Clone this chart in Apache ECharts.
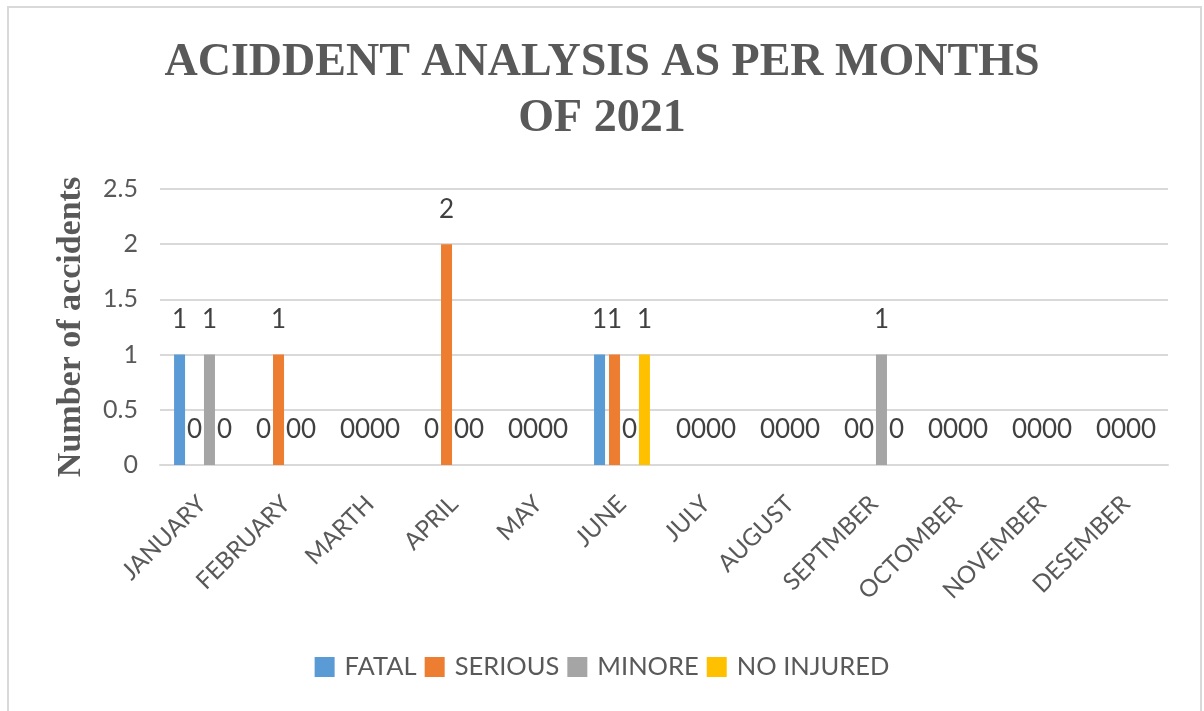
<!DOCTYPE html>
<html>
<head>
<meta charset="utf-8">
<script src="https://cdn.jsdelivr.net/npm/echarts@6/dist/echarts.min.js"></script>
<style>
  html, body { margin: 0; padding: 0; background: #fff; }
  #chart { width: 1204px; height: 711px; }
</style>
</head>
<body>
<div id="chart"></div>
<script>
const months = ['JANUARY', 'FEBRUARY', 'MARTH', 'APRIL', 'MAY', 'JUNE', 'JULY', 'AUGUST', 'SEPTMBER', 'OCTOMBER', 'NOVEMBER', 'DESEMBER']
const fatal = [1, 0, 0, 0, 0, 1, 0, 0, 0, 0, 0, 0]
const serious = [0, 1, 0, 2, 0, 1, 0, 0, 0, 0, 0, 0]
const minore = [1, 0, 0, 0, 0, 0, 0, 0, 1, 0, 0, 0]
const noInjured = [0, 0, 0, 0, 0, 1, 0, 0, 0, 0, 0, 0]
const yTicks = [0, 0.5, 1, 1.5, 2, 2.5]

const textColor = '#595959'
const bodyFont = 'Lato, "Open Sans", sans-serif'

function makeSeries(name, data, color) {
  return {
    name: name,
    type: 'bar',
    data: data,
    barWidth: 11,
    barGap: '36%',
    itemStyle: { color: color },
    label: {
      show: true,
      position: 'top',
      distance: 22,
      color: '#404040',
      fontFamily: bodyFont,
      fontSize: 26
    }
  }
}

const chart = echarts.init(document.getElementById('chart'))
chart.setOption({
  animation: false,
  backgroundColor: '#fff',
  graphic: [{
    type: 'rect',
    shape: { x: 8, y: 7, width: 1193, height: 720 },
    style: { fill: 'none', stroke: '#d9d9d9', lineWidth: 2 }
  }],
  title: {
    text: 'ACIDDENT ANALYSIS AS PER MONTHS\nOF 2021',
    left: 'center',
    top: 30,
    textStyle: {
      fontFamily: '"Liberation Serif", "DejaVu Serif", serif',
      fontWeight: 'bold',
      fontSize: 46,
      lineHeight: 56,
      color: textColor
    }
  },
  legend: {
    bottom: 26,
    left: 'center',
    itemWidth: 20,
    itemHeight: 20,
    itemGap: 8,
    icon: 'rect',
    textStyle: { fontFamily: bodyFont, fontSize: 25.5, color: textColor, padding: [0, 0, 0, 5] },
    data: ['FATAL', 'SERIOUS', 'MINORE', 'NO INJURED']
  },
  grid: {
    left: 160,
    right: 36,
    top: 189,
    bottom: 246
  },
  xAxis: {
    type: 'category',
    data: months,
    axisLine: { lineStyle: { color: '#d9d9d9', width: 2 } },
    axisTick: { show: false },
    axisLabel: {
      rotate: 45,
      interval: 0,
      margin: 35,
      color: textColor,
      fontFamily: bodyFont,
      fontSize: 24
    }
  },
  yAxis: {
    type: 'value',
    min: yTicks[0],
    max: yTicks[yTicks.length - 1],
    interval: yTicks[1] - yTicks[0],
    name: 'Number of accidents',
    nameLocation: 'middle',
    nameGap: 72,
    nameTextStyle: {
      fontFamily: '"Liberation Serif", "DejaVu Serif", serif',
      fontWeight: 'bold',
      fontSize: 34,
      color: textColor
    },
    axisLine: { show: false },
    axisTick: { show: false },
    splitLine: { lineStyle: { color: '#d9d9d9', width: 2 } },
    axisLabel: {
      margin: 22,
      color: textColor,
      fontFamily: bodyFont,
      fontSize: 25
    }
  },
  series: [
    makeSeries('FATAL', fatal, '#5b9bd5'),
    makeSeries('SERIOUS', serious, '#ed7d31'),
    makeSeries('MINORE', minore, '#a5a5a5'),
    makeSeries('NO INJURED', noInjured, '#ffc000')
  ]
})
</script>
</body>
</html>
